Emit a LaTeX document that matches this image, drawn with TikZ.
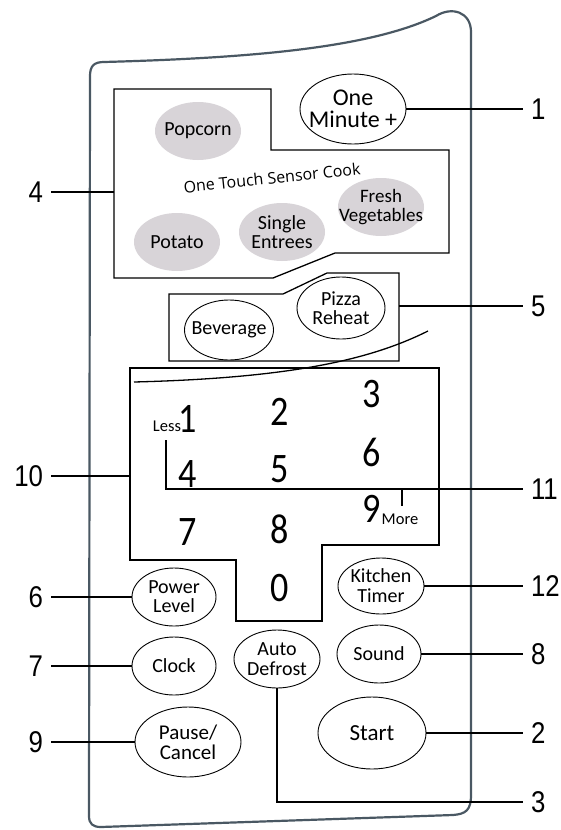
\documentclass[tikz,border=0pt]{standalone}
\usepackage{fontspec}
\setmainfont{Carlito}
\newfontfamily\labfont{Liberation Sans}
\newfontfamily\stfont{Open Sans}
\usetikzlibrary{shapes.geometric}
\definecolor{panelc}{RGB}{74,88,99}
\definecolor{sgray}{RGB}{216,212,216}
\newcommand{\narrow}[1]{\scalebox{0.86}[1]{#1}}
\begin{document}
\begin{tikzpicture}[x=1pt,y=-1pt,
  keyel/.style={draw, ellipse, line width=0.9pt, inner sep=0pt, minimum width=84pt, minimum height=58pt},
  sensel/.style={ellipse, fill=sgray, draw=none, inner sep=0pt, minimum width=86pt, minimum height=58pt},
  ktxt/.style={inner sep=0pt, align=center, font=\fontsize{20}{19}\selectfont},
  digit/.style={inner sep=0pt, font=\fontsize{42}{42}\selectfont},
  small/.style={inner sep=0pt, font=\fontsize{16.5}{16}\selectfont},
  lab/.style={inner sep=0pt, outer sep=8pt, font=\labfont\fontsize{30}{30}\selectfont},
  boxln/.style={line width=1.3pt},
  ldr/.style={line width=1.2pt}]
\useasboundingbox (0,0) rectangle (560,830);
% panel outline
\draw[panelc, line width=2.2pt, line join=round]
  (90,76) .. controls (90,66) and (94,62) .. (104,62)
  .. controls (250,58) and (370,48) .. (436,16)
  .. controls (452,6) and (471,12) .. (471,32)
  -- (471,795) .. controls (471,810) and (466,814) .. (453,815)
  -- (101,827) .. controls (93,827) and (89,824) .. (89,816) -- cycle;
% group boxes
\draw[boxln] (114,89) -- (271,89) -- (271,150) -- (449,150) -- (449,253) -- (335,253) -- (273,278) -- (114,278) -- cycle;
\draw[boxln] (169,294) -- (283,294) -- (327,273) -- (399,273) -- (399,361) -- (169,361) -- cycle;
\draw[boxln] (130,368) -- (439,368) -- (439,545) -- (322,545) -- (322,621) -- (236,621) -- (236,560) -- (130,560) -- cycle;
\draw[boxln] (134,382) .. controls (290,378) and (370,360) .. (428,331);
% anchor points
\coordinate (b4w) at (114,192);
\coordinate (b5e) at (399,306);
\coordinate (kpw) at (130,476);
\coordinate (lessA) at (166,440);
\coordinate (moreA) at (402,489);
\coordinate (moreB) at (402,506);
% sensor keys
\node[sensel] (pop) at (198,131) {};
\node[ktxt] (tpop) at (pop) {Popcorn};
\node[sensel] (pot) at (177,242) {};
\node[ktxt] (tpot) at (pot) {Potato};
\node[sensel] (sgl) at (282,232) {};
\node[ktxt] (tsgl) at (sgl) {Single\\Entrees};
\node[sensel] (frs) at (381,207) {};
\node[ktxt, font=\fontsize{19}{18.5}\selectfont] (tfrs) at (frs) {Fresh\\Vegetables};
\node[inner sep=0pt, rotate=6, font=\stfont\fontsize{16}{16}\selectfont] (otsc) at (272,178) {One Touch Sensor Cook};
% keys
\node[keyel, minimum width=106pt, minimum height=70pt] (onemin) at (353,109) {};
\node[ktxt, font=\fontsize{24}{22.5}\selectfont] (tonemin) at (onemin) {One\\Minute +};
\node[keyel, minimum width=89pt, minimum height=60pt] (bev) at (229,330) {};
\node[ktxt] (tbev) at (bev) {Beverage};
\node[keyel, minimum width=88pt, minimum height=62pt] (pizza) at (341,308) {};
\node[ktxt] (tpizza) at (pizza) {Pizza\\Reheat};
\node[keyel] (power) at (174,597) {};
\node[ktxt] (tpower) at (power) {Power\\Level};
\node[keyel] (clock) at (174,666) {};
\node[ktxt] (tclock) at (clock) {Clock};
\node[keyel, minimum width=106pt, minimum height=70pt] (pause) at (188,742) {};
\node[ktxt, font=\fontsize{21}{20}\selectfont] (tpause) at (pause) {Pause/\\Cancel};
\node[keyel, minimum width=86pt] (autodef) at (277,659) {};
\node[ktxt, font=\fontsize{20}{20}\selectfont] (tautodef) at (autodef) {Auto\\Defrost};
\node[keyel, minimum width=86pt, minimum height=56pt] (kitchen) at (381,586) {};
\node[ktxt, font=\fontsize{20}{20}\selectfont] (tkitchen) at (kitchen) {Kitchen\\Timer};
\node[keyel] (sound) at (379,654) {};
\node[ktxt] (tsound) at (sound) {Sound};
\node[keyel, minimum width=108pt, minimum height=72pt] (start) at (372,733) {};
\node[ktxt, font=\fontsize{23}{21}\selectfont] (tstart) at (start) {Start};
% number pad
\node[digit] (d1) at (188,419) {\narrow{1}};
\node[digit] (d4) at (188,474) {\narrow{4}};
\node[digit] (d7) at (188,532) {\narrow{7}};
\node[digit] (d2) at (280,412) {\narrow{2}};
\node[digit] (d5) at (280,469) {\narrow{5}};
\node[digit] (d8) at (280,529) {\narrow{8}};
\node[digit] (d0) at (280,588) {\narrow{0}};
\node[digit] (d3) at (372,394) {\narrow{3}};
\node[digit] (d6) at (372,452) {\narrow{6}};
\node[digit] (d9) at (372,509) {\narrow{9}};
\node[small] (less) at (167,426) {Less};
\node[small] (more) at (400,519) {More};
% labels
\node[lab, anchor=east] (l4) at (51,192) {\narrow{4}};
\node[lab, anchor=east] (l10) at (51,476) {\narrow{10}};
\node[lab, anchor=east] (l6) at (51,597) {\narrow{6}};
\node[lab, anchor=east] (l7) at (51,666) {\narrow{7}};
\node[lab, anchor=east] (l9) at (51,742) {\narrow{9}};
\node[lab, anchor=west] (l1) at (523,109) {\narrow{1}};
\node[lab, anchor=west] (l5) at (523,306) {\narrow{5}};
\node[lab, anchor=west] (l11) at (523,489) {\narrow{11}};
\node[lab, anchor=west] (l12) at (523,586) {\narrow{12}};
\node[lab, anchor=west] (l8) at (523,654) {\narrow{8}};
\node[lab, anchor=west] (l2) at (523,733) {\narrow{2}};
\node[lab, anchor=west] (l3) at (523,802) {\narrow{3}};
% leaders
\draw[ldr] (l4) -- (b4w);
\draw[ldr] (l10) -- (kpw);
\draw[ldr] (l6) -- (power);
\draw[ldr] (l7) -- (clock);
\draw[ldr] (l9) -- (pause);
\draw[ldr] (onemin) -- (l1);
\draw[ldr] (b5e) -- (l5);
\draw[ldr] (lessA) |- (l11);
\draw[ldr] (moreA) -- (moreB);
\draw[ldr] (kitchen) -- (l12);
\draw[ldr] (sound) -- (l8);
\draw[ldr] (start) -- (l2);
\draw[ldr] (autodef) |- (l3);
\end{tikzpicture}
\end{document}
